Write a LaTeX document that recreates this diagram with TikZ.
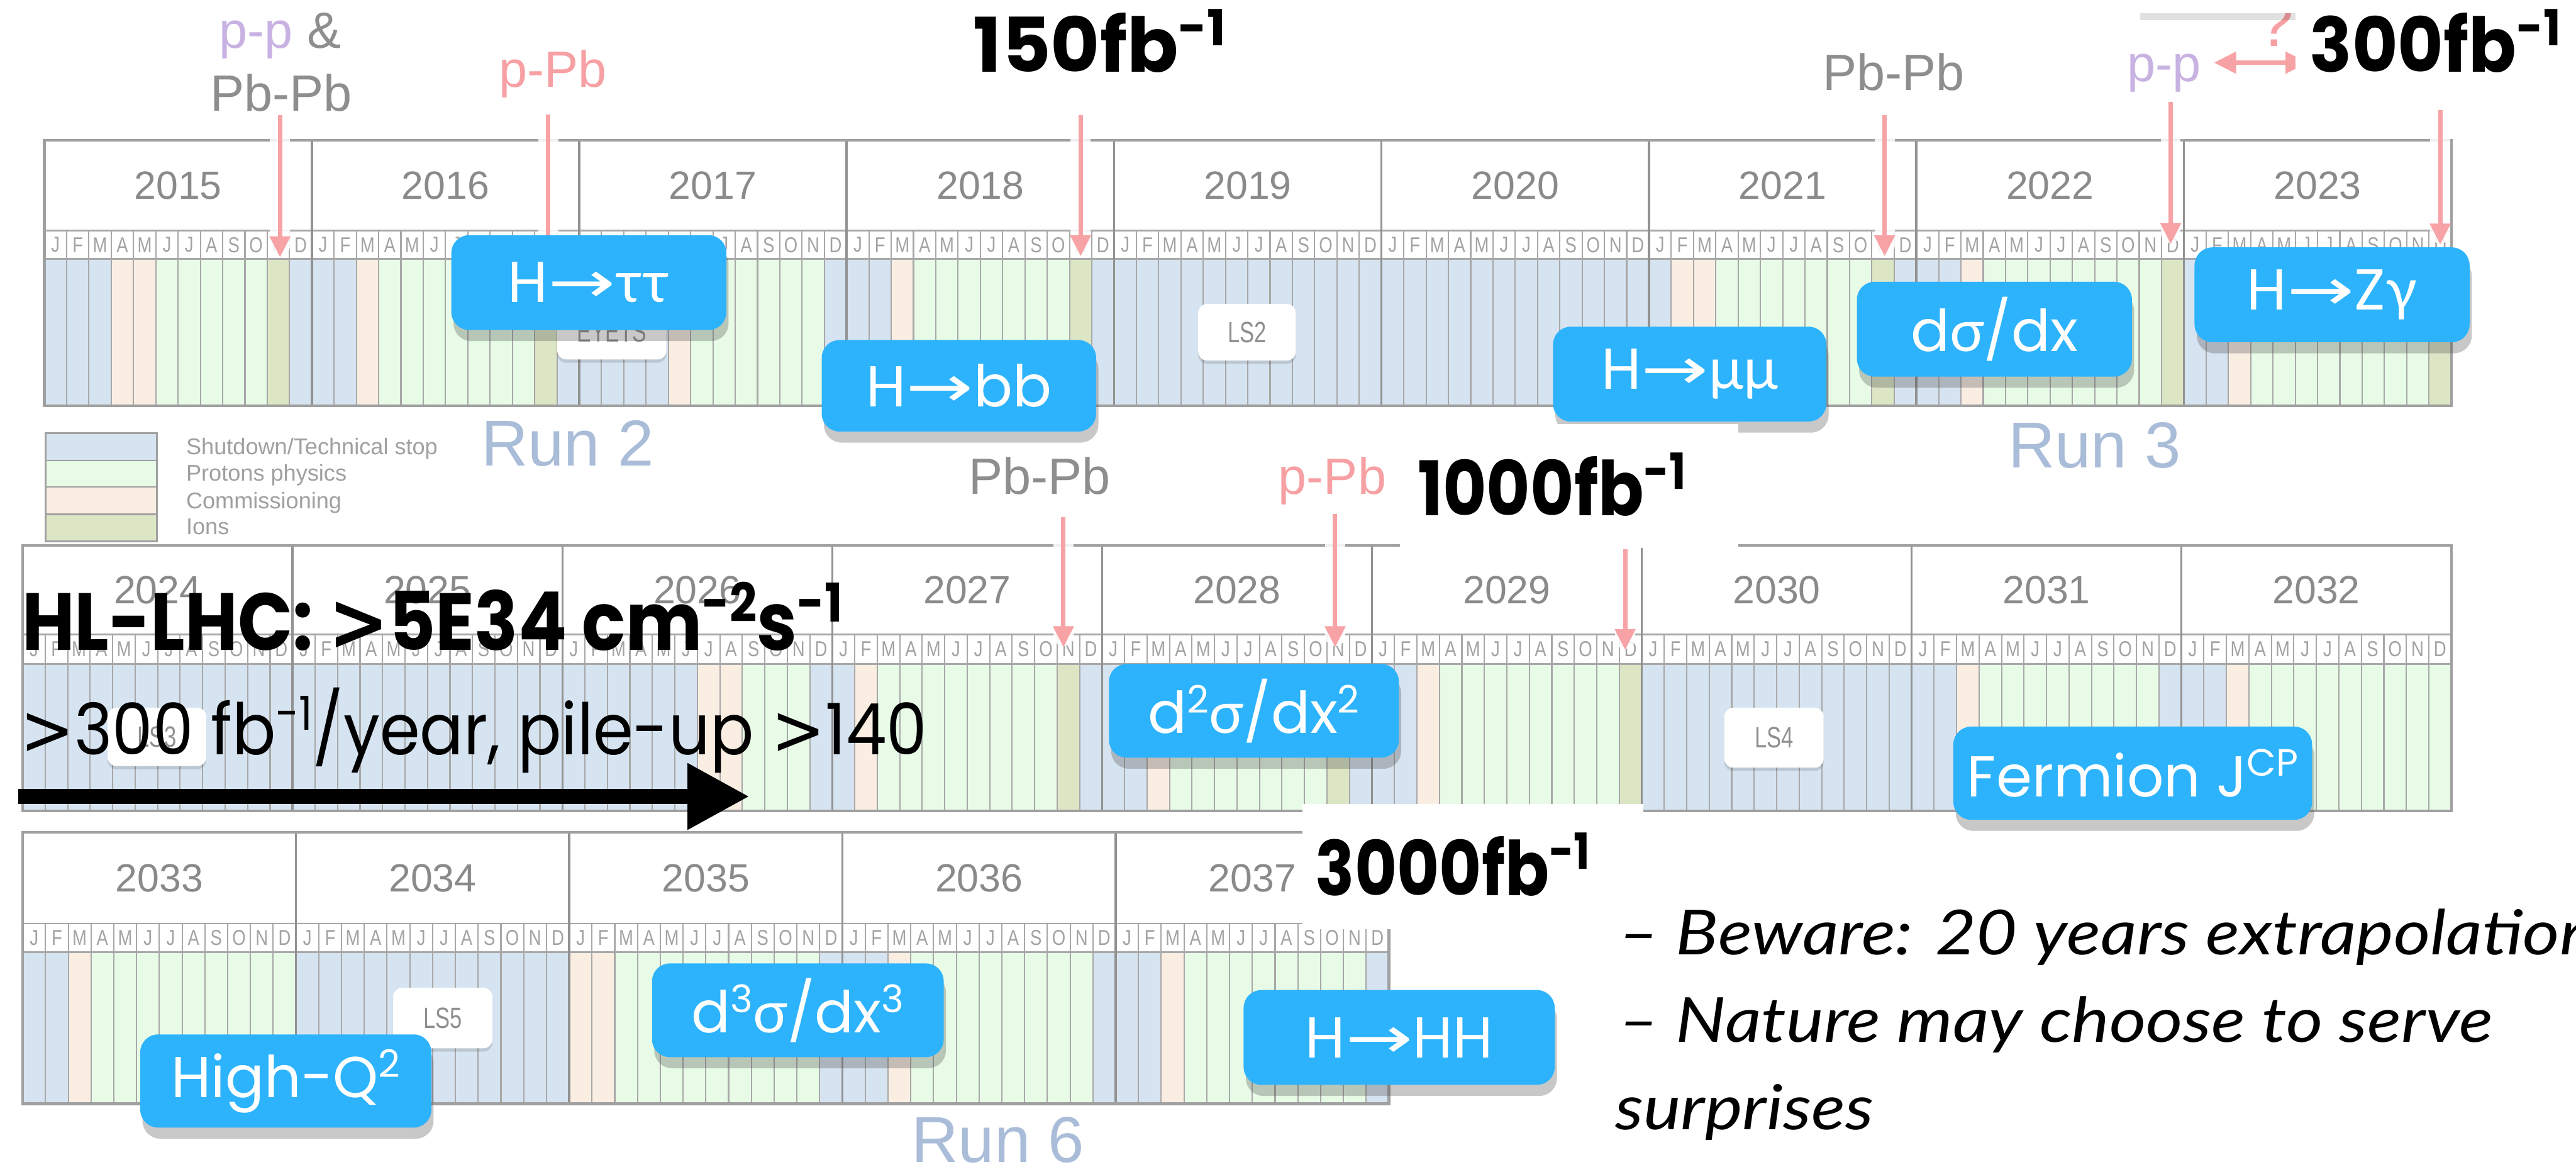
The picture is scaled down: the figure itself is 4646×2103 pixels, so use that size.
\documentclass[tikz,border=0pt]{standalone}
\usepackage{fontspec}
\usepackage{graphicx}
\usetikzlibrary{arrows.meta,shadows}
\setmainfont{Liberation Sans}
\newfontfamily\popfont{Poppins}
\newfontfamily\greekfont{Lato}
\newfontfamily\arrowfont{DejaVu Sans}
\newfontfamily\handfont{Lato}

\definecolor{colb}{HTML}{D6E3F0}
\definecolor{colg}{HTML}{E7FBE6}
\definecolor{colp}{HTML}{FAEEE3}
\definecolor{coli}{HTML}{DCE6C5}
\definecolor{gridgray}{HTML}{A8A8A8}
\definecolor{sepgray}{HTML}{929292}
\definecolor{framegray}{HTML}{A0A0A0}
\definecolor{yeargray}{HTML}{8A8A8A}
\definecolor{monthgray}{HTML}{A3A3A3}
\definecolor{pinkarrow}{HTML}{F7A3A6}
\definecolor{pinktext}{HTML}{F7A0A3}
\definecolor{pptext}{HTML}{C8B2E2}
\definecolor{pbtext}{HTML}{8E8E8E}
\definecolor{runblue}{HTML}{A9BCD8}
\definecolor{boxblue}{HTML}{2DB3FC}
\definecolor{lsgray}{HTML}{8F8F8F}
\definecolor{legtext}{HTML}{A0A0A0}

\newcommand\up[1]{\raisebox{0.35em}{\scalebox{0.66}{#1}}}
\newcommand\harrow{{\arrowfont\scalebox{1.4}[1]{→}}}
\newcommand\fsz[1]{\fontsize{#1}{#1}\selectfont}
\newcommand\gr[1]{{\greekfont #1}}
\newcommand\gt{{\arrowfont >}}

% one year of the schedule: #1 position in the row, #2 year, #3 month codes
\newcommand\yearblock[3]{%
  \pgfmathsetmacro\xl{\rx+(#1)*\rw}%
  \pgfmathsetmacro\mw{\rw/12}%
  \foreach \cc [count=\mi from 0] in {#3} {%
    \fill[col\cc] ({\xl+\mi*\mw},\rc) rectangle ({\xl+(\mi+1)*\mw},\rd);
  }
  \foreach \ml [count=\mi from 0] in {J,F,M,A,M,J,J,A,S,O,N,D} {%
    \node[monthlbl] (mon-#2-\mi) at ({\xl+(\mi+0.5)*\mw},{(\rb+\rc)/2}) {\scalebox{0.8}[1]{\ml}};
  }
  \foreach \kk in {1,...,11} {%
    \draw[monthline] ({\xl+\kk*\mw},\rb) -- ({\xl+\kk*\mw},\rd);
  }
  \node[yearlbl] (yr-#2) at ({\xl+\rw/2},{(\ra+\rb)/2}) {#2};
}
% grid lines and frame of a row of #1 years
\newcommand\rowframe[1]{%
  \pgfmathsetmacro\xr{\rx+(#1)*\rw}%
  \pgfmathtruncatemacro\nm{#1-1}%
  \draw[hline] (\rx,\rb) -- (\xr,\rb);
  \draw[hline] (\rx,\rc) -- (\xr,\rc);
  \foreach \kk in {1,...,\nm} {%
    \draw[yearline] ({\rx+\kk*\rw},\ra) -- ({\rx+\kk*\rw},\rd);
  }
  \draw[frame] (\rx,\ra) rectangle (\xr,\rd);
}

\begin{document}
\begin{tikzpicture}[x=0.25pt,y=-0.25pt,
  monthline/.style={draw=gridgray,line width=0.6pt},
  hline/.style={draw=gridgray,line width=0.8pt},
  yearline/.style={draw=sepgray,line width=1pt},
  frame/.style={draw=framegray,line width=1.2pt},
  yearlbl/.style={font=\fsz{17.75},text=yeargray,inner sep=0},
  monthlbl/.style={font=\fsz{9.75},text=monthgray,inner sep=0},
  legline/.style={draw=framegray,line width=0.7pt},
  legtxt/.style={font=\fsz{10.25},text=legtext,inner sep=0,anchor=base west},
  runlbl/.style={font=\fsz{29.25},text=runblue,inner sep=0,anchor=base west},
  evlbl/.style={font=\fsz{23},inner sep=0,anchor=base},
  halo/.style={draw=white,line width=9pt,line cap=round,opacity=0.85,shorten >=5pt},
  evarrow/.style={draw=pinkarrow,line width=2pt,-{Triangle[length=9.5pt,width=9pt]}},
  lsbox/.style={fill=white,rounded corners=4pt,inner sep=0,font=\fsz{13.25},text=lsgray,
    drop shadow={shadow xshift=0pt,shadow yshift=-1.5pt,opacity=0.12,fill=black}},
  bluebox/.style={fill=boxblue,rounded corners=8pt,inner sep=0,text=white,font=\popfont\fsz{26},
    drop shadow={shadow xshift=1pt,shadow yshift=-5pt,opacity=0.3,fill=black!70}},
  cover/.style={fill=white,draw=none},
  lumi/.style={font=\popfont\bfseries\fsz{34},inner sep=0,anchor=base west},
  hand/.style={font=\handfont\itshape\fsz{28},inner sep=0,anchor=base west}]

\fill[white] (0,0) rectangle (4646,2103);
\useasboundingbox (0,0) rectangle (4646,2103);

% ---- Run 2 / Run 3 : 2015-2023
\def\rx{80}\def\rw{482.33}\def\ra{253}\def\rb{416}\def\rc{467}\def\rd{732}
\yearblock{0}{2015}{b,b,b,p,p,g,g,g,g,g,i,b}
\yearblock{1}{2016}{b,b,p,g,g,g,g,g,g,g,i,b}
\yearblock{2}{2017}{b,b,b,b,p,g,g,g,g,g,g,b}
\yearblock{3}{2018}{b,b,p,g,g,g,g,g,g,g,i,b}
\yearblock{4}{2019}{b,b,b,b,b,b,b,b,b,b,b,b}
\yearblock{5}{2020}{b,b,b,b,b,b,b,b,b,b,b,b}
\yearblock{6}{2021}{b,p,p,g,g,g,g,g,g,g,i,b}
\yearblock{7}{2022}{b,b,p,g,g,g,g,g,g,g,g,i}
\yearblock{8}{2023}{b,b,p,g,g,g,g,g,g,g,g,i}
\rowframe{9}

% ---- 2024-2032
\def\rx{41}\def\rw{486.67}\def\ra{983}\def\rb{1144}\def\rc{1197}\def\rd{1462}
\yearblock{0}{2024}{b,b,b,b,b,b,b,b,b,b,b,b}
\yearblock{1}{2025}{b,b,b,b,b,b,b,b,b,b,b,b}
\yearblock{2}{2026}{b,b,b,b,b,b,p,p,g,g,g,b}
\yearblock{3}{2027}{b,p,g,g,g,g,g,g,g,g,i,b}
\yearblock{4}{2028}{b,b,p,g,g,g,g,g,g,g,i,b}
\yearblock{5}{2029}{b,b,p,g,g,g,g,g,g,g,g,i}
\yearblock{6}{2030}{b,b,b,b,b,b,b,b,b,b,b,b}
\yearblock{7}{2031}{b,b,p,g,g,g,g,g,g,g,g,b}
\yearblock{8}{2032}{b,b,p,g,g,g,g,g,g,g,g,g}
\rowframe{9}

% ---- 2033-2037
\def\rx{41}\def\rw{492.8}\def\ra{1501}\def\rb{1665}\def\rc{1717}\def\rd{1990}
\yearblock{0}{2033}{b,b,p,g,g,g,g,g,g,g,g,g}
\yearblock{1}{2034}{b,b,b,b,b,b,b,b,b,b,b,b}
\yearblock{2}{2035}{p,p,g,g,g,g,g,g,g,g,g,b}
\yearblock{3}{2036}{b,b,p,g,g,g,g,g,g,g,g,b}
\yearblock{4}{2037}{b,b,p,g,g,g,g,g,g,g,g,b}
\rowframe{5}

% ---- legend
\draw[legline,fill=colb] (82,781) rectangle (283,830);
\draw[legline,fill=colg] (82,830) rectangle (283,878);
\draw[legline,fill=colp] (82,878) rectangle (283,927);
\draw[legline,fill=coli] (82,927) rectangle (283,976);
\node[legtxt] (lg-b) at (335,820) {Shutdown/Technical stop};
\node[legtxt] (lg-g) at (335,867) {Protons physics};
\node[legtxt] (lg-p) at (335,917) {Commissioning};
\node[legtxt] (lg-i) at (335,964) {Ions};

% ---- run names
\node[runlbl] (run2) at (867,840) {Run 2};
\node[runlbl] (run3) at (3621,843) {Run 3};
\node[runlbl] (run6) at (1643,2095) {Run 6};

% ---- shutdown tags
\node[lsbox,minimum width=49.25pt,minimum height=25pt] (eyets) at (1103.5,598) {\scalebox{0.72}[1]{EYETS}};
\node[lsbox,minimum width=44pt,minimum height=25.5pt] (ls2) at (2249,599) {\scalebox{0.74}[1]{LS2}};
\node[lsbox,minimum width=44.5pt,minimum height=26.25pt] (ls3) at (283,1328.5) {\scalebox{0.74}[1]{LS3}};
\node[lsbox,minimum width=44.75pt,minimum height=27pt] (ls4) at (3199.5,1330) {\scalebox{0.74}[1]{LS4}};
\node[lsbox,minimum width=44.75pt,minimum height=27.25pt] (ls5) at (798.5,1835.5) {\scalebox{0.74}[1]{LS5}};

% ---- beam labels and markers, first row
\node[evlbl,text=pbtext] (ev1a) at (505,87) {\textcolor{pptext}{p-p} \&};
\node[evlbl,text=pbtext] (ev1b) at (507,200) {Pb-Pb};
\node[evlbl,text=pinktext] (ev2) at (997,157) {p-Pb};
\node[evlbl,text=pbtext] (ev4) at (3415,163) {Pb-Pb};
\node[evlbl,text=pptext] (ev5) at (3903,147) {p-p};

\coordinate (a1s) at (505,207);  \coordinate (a1e) at (505,464);
\coordinate (a2s) at (989,206);  \coordinate (a2e) at (989,464);
\coordinate (a3s) at (1949,207); \coordinate (a3e) at (1949,462);
\coordinate (a4s) at (3399,207); \coordinate (a4e) at (3399,462);
\coordinate (a5s) at (3915,184); \coordinate (a5e) at (3915,440);
\coordinate (a6s) at (4401,199); \coordinate (a6e) at (4401,441);
\coordinate (b1s) at (1918,932); \coordinate (b1e) at (1918,1167);
\coordinate (b2s) at (2408,927); \coordinate (b2e) at (2408,1167);
\coordinate (b3s) at (2931,990); \coordinate (b3e) at (2931,1172);
\foreach \p in {a1,a2,a3,a4,a5,a6,b1,b2,b3} {
  \draw[halo] (\p s) -- (\p e);
  \draw[evarrow] (\p s) -- (\p e);
}

% question mark and double arrow next to 300 fb-1
\begin{scope}
  \clip (3860,24) rectangle (4140,160);
  \node[evlbl,text=pinktext,font=\fsz{30}] (qm) at (4104,83) {?};
\end{scope}
\coordinate (dl) at (3993,113);
\coordinate (dr) at (4162,113);
\draw[draw=pinkarrow,line width=2pt,{Triangle[length=10pt,width=9.5pt]}-{Triangle[length=10pt,width=9.5pt]}] (dl) -- (dr);
\fill[white,drop shadow={shadow xshift=0pt,shadow yshift=-3pt,opacity=0.12,fill=black}] (3860,-40) rectangle (4140,24);
\fill[cover] (4140,24) rectangle (4646,157);

% ---- second row labels
\node[evlbl,text=pbtext] (ev6) at (1875,891) {Pb-Pb};
\node[evlbl,text=pinktext] (ev7) at (2403,891) {p-Pb};

% ---- analyses
\node[bluebox,minimum width=124pt,minimum height=42.75pt] (htt) at (1062,509.5) {H\harrow\gr{ττ}};
\node[bluebox,minimum width=123.75pt,minimum height=41.25pt] (hbb) at (1729.5,695.5) {H\harrow bb};
\node[bluebox,minimum width=123.25pt,minimum height=42.75pt] (hmm) at (3047.5,674.5) {H\harrow\gr{μμ}};
\node[bluebox,minimum width=124pt,minimum height=42.75pt] (dsig) at (3597,593.5) {d\gr{σ}/dx};
\node[bluebox,minimum width=124pt,minimum height=42.75pt] (hzg) at (4206,531.5) {H\harrow Z\gr{γ}};
\node[bluebox,minimum width=130.75pt,minimum height=42.25pt] (d2sig) at (2261.5,1281.5) {d\up{2}\gr{σ}/dx\up{2}};
\node[bluebox,minimum width=161.75pt,minimum height=42pt] (ferm) at (3846.5,1394) {Fermion J\up{CP}};
\node[bluebox,minimum width=131.25pt,minimum height=42pt] (highq) at (515.5,1949) {High-Q\up{2}};
\node[bluebox,minimum width=131.5pt,minimum height=42.25pt] (d3sig) at (1439,1821.5) {d\up{3}\gr{σ}/dx\up{3}};
\node[bluebox,minimum width=140.25pt,minimum height=42.75pt] (hhh) at (2523.5,1870.5) {H\harrow HH};

% ---- white panels behind the luminosity figures
\fill[cover] (2525,764) rectangle (3135,988);
\fill[cover] (2349,1450) rectangle (2964,1675);

% ---- integrated luminosities
\node[lumi] (l150) at (1755,130) {150fb\up{-1}};
\node[lumi] (l300) at (4165,130) {\scalebox{0.93}[1]{300fb\up{-1}}};
\node[lumi] (l1000) at (2556,930) {\scalebox{0.89}[1]{1000fb\up{-1}}};
\node[lumi] (l3000) at (2372,1615) {\scalebox{0.86}[1]{3000fb\up{-1}}};

% ---- HL-LHC statement
\node[inner sep=0,anchor=base west,font=\popfont\bfseries\fsz{36.5}] (hl) at (39,1172)
  {\scalebox{0.89}[1]{HL-LHC: {\arrowfont\bfseries >}5E34 cm\up{-2}s\up{-1}}};
\node[inner sep=0,anchor=base west,font=\popfont\fsz{32}] (rate) at (36,1361)
  {\scalebox{0.91}[1]{\gt300 fb\up{-1}/year, pile-up \gt140}};
\coordinate (bas) at (33,1436);
\coordinate (bae) at (1352,1436);
\draw[line width=7pt,-{Triangle[length=28pt,width=28pt]}] (bas) -- (bae);

% ---- remarks
\node[hand] (rm1) at (2918,1721) {\scalebox{1.14}[1]{– Beware: 20 years extrapolation}};
\node[hand] (rm2) at (2918,1879) {\scalebox{1.14}[1]{– Nature may choose to serve}};
\node[hand] (rm3) at (2912,2037) {\scalebox{1.14}[1]{surprises}};

\end{tikzpicture}
\end{document}
